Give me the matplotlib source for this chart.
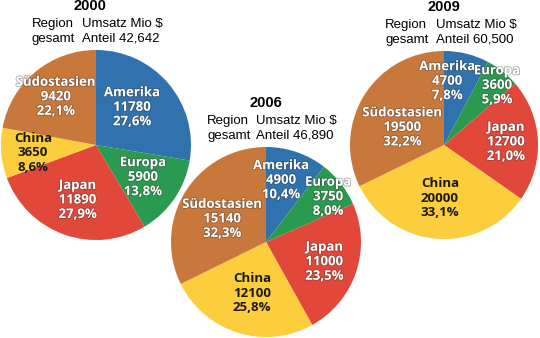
import numpy as np
import matplotlib
matplotlib.use('Agg')
import matplotlib.pyplot as plt
import matplotlib.patheffects as pe

# ---- data ----
regionen = ['Amerika', 'Europa', 'Japan', 'China', 'Südostasien']
jahre = ['2000', '2006', '2009']
umsatz_2000 = [11780, 5900, 11890, 3650, 9420]
umsatz_2006 = [4900, 3750, 11000, 12100, 15140]
umsatz_2009 = [4700, 3600, 12700, 20000, 19500]
anteil_2000 = [27.6, 13.8, 27.9, 8.6, 22.1]
anteil_2006 = [10.4, 8.0, 23.5, 25.8, 32.3]
anteil_2009 = [7.8, 5.9, 21.0, 33.1, 32.2]
gesamt = ['42,642', '46,890', '60,500']

farben = ['#2f72ad', '#2a9a50', '#e2483a', '#fccd3c', '#c9783c']
txtfarben = ['white', 'white', 'white', '#1a1a1a', 'white']

# layout: pie centres / radius in pixels (y from top), label placement
centres = [(96, 145), (266, 242), (444, 145)]
radien = [95, 95, 94]
lab_r = [[0.55, 0.60, 0.61, 0.67, 0.66],
         [0.67, 0.81, 0.65, 0.56, 0.52],
         [0.68, 0.85, 0.66, 0.57, 0.48]]
lab_dang = [[6, 0, 1, 2, 0],
            [5, -2, 0, 2, 4],
            [11, -3, 0, 0, 9]]
head_dx = [(-64, -14, -6), (-59, -10, 0), (-59, -8, 0)]

W, H = 540, 338
fig = plt.figure(figsize=(W / 100, H / 100), dpi=100)
ax = fig.add_axes([0, 0, 1, 1])

lab_font = ['Open Sans', 'DejaVu Sans']
head_font = ['Liberation Sans', 'DejaVu Sans']

for k, (umsatz, anteil) in enumerate([(umsatz_2000, anteil_2000),
                                       (umsatz_2006, anteil_2006),
                                       (umsatz_2009, anteil_2009)]):
    cx, cy_top = centres[k]
    cy = H - cy_top
    r = radien[k]
    wedges, _ = ax.pie(umsatz, colors=farben, startangle=90, counterclock=False,
                       center=(cx, cy), radius=r, frame=True,
                       wedgeprops=dict(linewidth=0))
    for i, w in enumerate(wedges):
        mid = np.deg2rad(0.5 * (w.theta1 + w.theta2) + lab_dang[k][i])
        x = cx + lab_r[k][i] * r * np.cos(mid)
        y = cy + lab_r[k][i] * r * np.sin(mid)
        txt = f"{regionen[i]}\n{umsatz[i]}\n{anteil[i]:.1f}%".replace('.', ',')
        t = ax.text(x, y, txt, ha='center', va='center', color=txtfarben[i],
                    fontsize=9.5, fontweight='bold', fontstretch='condensed',
                    family=lab_font, linespacing=1.15)
        if txtfarben[i] == 'white':
            t.set_path_effects([pe.withStroke(linewidth=1.2, foreground='#333333', alpha=0.4)])
    top = cy + r
    dl, dr, dt = head_dx[k]
    ax.text(cx + dt, top + 44, jahre[k], ha='center', va='center',
            fontsize=10.5, fontweight='bold', family=head_font)
    ax.text(cx + dl, top + 18.5, 'Region\ngesamt', ha='left', va='center',
            fontsize=9.5, family=head_font, linespacing=1.3)
    ax.text(cx + dr, top + 18.5, f'Umsatz Mio $\nAnteil {gesamt[k]}', ha='left',
            va='center', fontsize=9.5, family=head_font, linespacing=1.3)

ax.set_xlim(0, W)
ax.set_ylim(0, H)
ax.set_aspect('equal')
ax.axis('off')
fig.savefig('out.png', dpi=100)
